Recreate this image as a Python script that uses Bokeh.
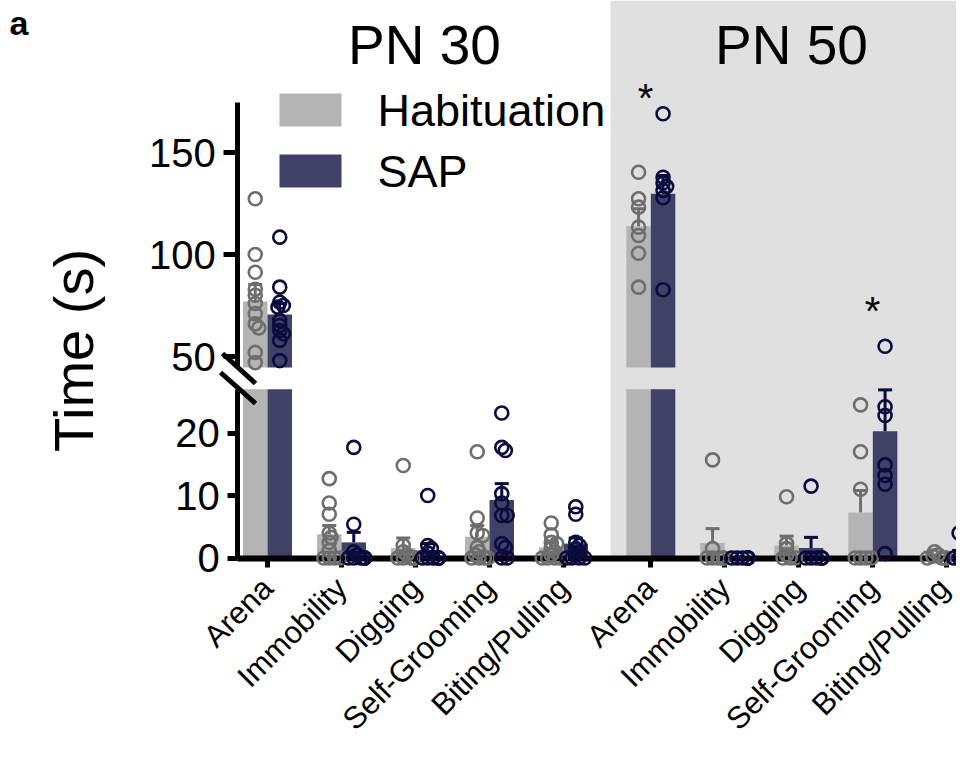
import math
import numpy as np
from bokeh.plotting import figure
from bokeh.models import Range1d, LinearAxis, FixedTicker, BoxAnnotation
from bokeh.core.properties import value
from bokeh.embed import file_html
from bokeh.resources import INLINE

# ---------------- data (seconds) ----------------
groups = ["PN 30", "PN 50"]
categories = ["Arena", "Immobility", "Digging", "Self-Grooming", "Biting/Pulling"]
series = ["Habituation", "SAP"]

hab_mean_pn30 = [77.0, 3.8, 1.6, 3.4, 1.7]
hab_sem_pn30 = [8.3, 1.4, 1.6, 1.8, 0.8]
sap_mean_pn30 = [70.6, 2.5, 1.2, 9.3, 2.3]
sap_sem_pn30 = [5.4, 1.6, 1.1, 2.6, 0.9]

hab_mean_pn50 = [113.9, 2.4, 2.0, 7.3, 0.3]
hab_sem_pn50 = [8.5, 2.3, 1.5, 3.5, 0.15]
sap_mean_pn50 = [129.8, 0.0, 1.6, 20.3, 0.6]
sap_sem_pn50 = [8.9, 0.0, 1.7, 6.6, 0.6]

hab_points_pn30 = [
    [127.3, 100.0, 91.3, 83.0, 80.0, 76.0, 71.0, 66.0, 64.0, 52.0, 47.0],
    [12.7, 8.8, 7.0, 4.0, 3.3, 2.5, 1.2, 0, 0, 0, 0],
    [14.8, 2.0, 1.0, 0.5, 0, 0, 0, 0, 0, 0, 0],
    [17.0, 6.4, 4.0, 3.6, 1.7, 1.0, 0.5, 0, 0, 0, 0],
    [5.6, 3.7, 2.5, 2.3, 1.5, 1.0, 0.5, 0, 0, 0, 0],
]
sap_points_pn30 = [
    [108.5, 84.0, 76.6, 75.0, 74.2, 67.6, 65.2, 62.7, 61.1, 57.9, 48.0],
    [17.7, 5.4, 1.0, 0.5, 0, 0, 0, 0, 0, 0, 0],
    [10.0, 2.0, 1.5, 0.8, 0, 0, 0, 0, 0, 0, 0],
    [23.2, 17.7, 17.2, 10.3, 8.8, 6.8, 6.8, 2.3, 1.7, 0, 0],
    [8.2, 7.0, 2.5, 2.0, 1.5, 1.0, 0.5, 0, 0, 0, 0],
]
hab_points_pn50 = [
    [140.3, 127.3, 123.2, 113.4, 109.3, 100.6, 84.0],
    [15.7, 1.5, 0, 0, 0, 0, 0],
    [9.8, 2.3, 1.5, 0.5, 0, 0, 0],
    [24.5, 17.0, 11.0, 0, 0, 0, 0],
    [1.0, 0.5, 0.3, 0, 0, 0, 0],
]
sap_points_pn50 = [
    [169.0, 137.9, 135.0, 133.3, 131.4, 127.8, 82.7],
    [0, 0, 0, 0, 0, 0, 0],
    [11.5, 0, 0, 0, 0, 0, 0],
    [55.0, 24.2, 22.8, 14.9, 13.2, 11.8, 0.7],
    [4.0, 0, 0, 0, 0, 0, 0],
]

lower_ticks = [0, 10, 20]
upper_ticks = [50, 100, 150]

# ---------------- layout (canvas pixels) ----------------
W, H = 956, 744
X0_PX, PX_X = 267.0, 74.0           # x of first category, px per category
Y0_PX, PX_LOW = 557.5, 6.25         # y of 0 s, px per second (lower panel)
Y50_PX, PX_UP = 356.0, 2.04         # y of 50 s, px per second (upper panel)
LOW_TOP, UP_BOT, UP_TOP = 27.0, 44.6, 174.5
GROUP_GAP = 0.18
BAR_W = 24.5 / PX_X

HAB_BAR, SAP_BAR = "#b4b4b4", "#3f4166"
HAB_PT, SAP_PT = "#6e6e6e", "#0b0b3d"
BG = "#e0e0e0"
FONT = "Liberation Sans"


def xd(cx):
    return (cx - X0_PX) / PX_X


def yd(cy):
    return (Y0_PX - cy) / PX_LOW


YAXIS_X = xd(237.3)

x_range = Range1d(xd(0), xd(W))
y_range = Range1d(yd(H), yd(0))
upper_range = Range1d(50 - (H - Y50_PX) / PX_UP, 50 + Y50_PX / PX_UP)

p = figure(width=W, height=H, x_range=x_range, y_range=y_range,
           output_backend="svg", toolbar_location=None,
           x_axis_location=None, y_axis_location=None, min_border=0)
p.extra_y_ranges = {"upper": upper_range}
p.outline_line_color = None
p.grid.visible = False
p.background_fill_color = "white"
p.border_fill_color = "white"

xpos = [float(i) for i in range(5)] + [5 + GROUP_GAP + i for i in range(5)]
labels = categories + categories

# grey background behind PN 50
p.add_layout(BoxAnnotation(left=xd(610), bottom=0, fill_color=BG, fill_alpha=1.0,
                           line_color=None, level="underlay"))

means = {"Habituation": hab_mean_pn30 + hab_mean_pn50, "SAP": sap_mean_pn30 + sap_mean_pn50}
sems = {"Habituation": hab_sem_pn30 + hab_sem_pn50, "SAP": sap_sem_pn30 + sap_sem_pn50}
points = {"Habituation": hab_points_pn30 + hab_points_pn50, "SAP": sap_points_pn30 + sap_points_pn50}
bar_col = {"Habituation": HAB_BAR, "SAP": SAP_BAR}
pt_col = {"Habituation": HAB_PT, "SAP": SAP_PT}
shift = {"Habituation": -BAR_W / 2, "SAP": BAR_W / 2}


def panel_px(v):
    if v > LOW_TOP:
        return Y50_PX - (v - 50) * PX_UP
    return Y0_PX - v * PX_LOW


def swarm(vals, step=1.8, min_d=4.5):
    order = np.argsort(-np.asarray(vals, dtype=float), kind="stable")
    placed, offs = [], [0.0] * len(vals)
    for i in order:
        y = panel_px(vals[i])
        k = 0
        while True:
            m = (k + 1) // 2
            off = m * step * (1 if k % 2 else -1)
            if all(math.hypot(off - ox, y - oy) >= min_d for ox, oy in placed) or m > 5:
                break
            k += 1
        placed.append((off, y))
        offs[i] = off
    return offs


for s in series:
    xs = [x + shift[s] for x in xpos]
    mv = means[s]
    # lower panel bars (clipped at the break)
    p.vbar(x=xs, width=BAR_W, bottom=0, top=[min(v, LOW_TOP) for v in mv],
           fill_color=bar_col[s], line_color=None)
    # upper panel bars
    up_idx = [i for i, v in enumerate(mv) if v > LOW_TOP]
    p.vbar(x=[xs[i] for i in up_idx], width=BAR_W, bottom=UP_BOT,
           top=[mv[i] for i in up_idx], fill_color=bar_col[s], line_color=None,
           y_range_name="upper")
    # error bars (mean + SEM)
    cap = 7.0 / PX_X
    for rng, sel in (("default", lambda v: v <= LOW_TOP), ("upper", lambda v: v > LOW_TOP)):
        idx = [i for i, v in enumerate(mv) if sel(v) and sems[s][i] > 0]
        if not idx:
            continue
        ex = [xs[i] for i in idx]
        y0 = [mv[i] for i in idx]
        y1 = [mv[i] + sems[s][i] for i in idx]
        p.segment(x0=ex, y0=y0, x1=ex, y1=y1, line_color=pt_col[s], line_width=3,
                  y_range_name=rng)
        p.segment(x0=[x - cap for x in ex], y0=y1, x1=[x + cap for x in ex], y1=y1,
                  line_color=pt_col[s], line_width=3, y_range_name=rng)

# axis break marks
p.segment(x0=[xd(222), xd(220)], y0=[yd(353), yd(372)], x1=[xd(255), xd(255)],
          y1=[yd(383), yd(403)], line_color="black", line_width=5)

# individual animals
for s in series:
    xs = [x + shift[s] for x in xpos]
    lx, ly, ux, uy = [], [], [], []
    for i, vals in enumerate(points[s]):
        offs = swarm(vals)
        for v, o in zip(vals, offs):
            if v > LOW_TOP:
                ux.append(xs[i] + o / PX_X); uy.append(v)
            else:
                lx.append(xs[i] + o / PX_X); ly.append(v)
    r1 = p.scatter(x=lx, y=ly, size=13, marker="circle", fill_color=None,
                   line_color=pt_col[s], line_width=2.6)
    r2 = p.scatter(x=ux, y=uy, size=13, marker="circle", fill_color=None,
                   line_color=pt_col[s], line_width=2.6, y_range_name="upper")
    r1.level = "overlay"
    r2.level = "overlay"

# axes
axis_style = dict(axis_line_color="black", major_tick_line_color="black",
                  major_tick_in=0, minor_tick_out=0, minor_tick_in=0,
                  major_label_text_font=FONT, major_label_text_color="black")

x_axis = LinearAxis(ticker=FixedTicker(ticks=xpos),
                    major_label_overrides={x: lab for x, lab in zip(xpos, labels)},
                    fixed_location=0, bounds=(YAXIS_X, xd(W)),
                    axis_line_width=6, major_tick_line_width=5, major_tick_out=9,
                    major_label_orientation=math.pi / 4,
                    major_label_text_font_size="31px", major_label_standoff=16,
                    **axis_style)
p.add_layout(x_axis, "below")

low_axis = LinearAxis(ticker=FixedTicker(ticks=lower_ticks), fixed_location=YAXIS_X,
                      bounds=(0, LOW_TOP), axis_line_width=5, major_tick_line_width=5,
                      major_tick_out=10, major_label_text_font_size="40px",
                      major_label_standoff=8, **axis_style)
p.add_layout(low_axis, "left")

up_axis = LinearAxis(y_range_name="upper", ticker=FixedTicker(ticks=upper_ticks),
                     fixed_location=YAXIS_X, bounds=(UP_BOT, UP_TOP), axis_line_width=5,
                     major_tick_line_width=5, major_tick_out=14,
                     major_label_text_font_size="40px", major_label_standoff=8,
                     **axis_style)
p.add_layout(up_axis, "left")

# texts
p.text(x=[xd(9)], y=[yd(22)], text=["a"], text_font=value(FONT), text_font_style="bold",
       text_font_size="34px", text_color="black", text_baseline="middle")
p.text(x=[xd(73)], y=[yd(350)], text=["Time (s)"], angle=math.pi / 2,
       text_font=value(FONT), text_font_size="56px", text_color="black",
       text_align="center", text_baseline="middle")
p.text(x=[xd(424), xd(791)], y=[yd(44), yd(44)], text=groups, text_font=value(FONT),
       text_font_size="55px", text_color="black", text_align="center",
       text_baseline="middle")

# significance stars (PN 50 Arena, PN 50 Self-Grooming)
p.text(x=[xd(645), xd(872)], y=[yd(97), yd(310)], text=["*", "*"],
       text_font=value(FONT), text_font_size="40px", text_color="black",
       text_align="center", text_baseline="middle")

# legend
p.rect(x=[xd(310), xd(310)], y=[yd(109.5), yd(170.5)], width=62 / PX_X,
       height=33 / PX_LOW, fill_color=[HAB_BAR, SAP_BAR], line_color=None)
p.text(x=[xd(377), xd(377)], y=[yd(110), yd(171)], text=series, text_font=value(FONT),
       text_font_size="45px", text_color="black", text_baseline="middle")

open("out.html", "w").write(file_html(p, INLINE))
